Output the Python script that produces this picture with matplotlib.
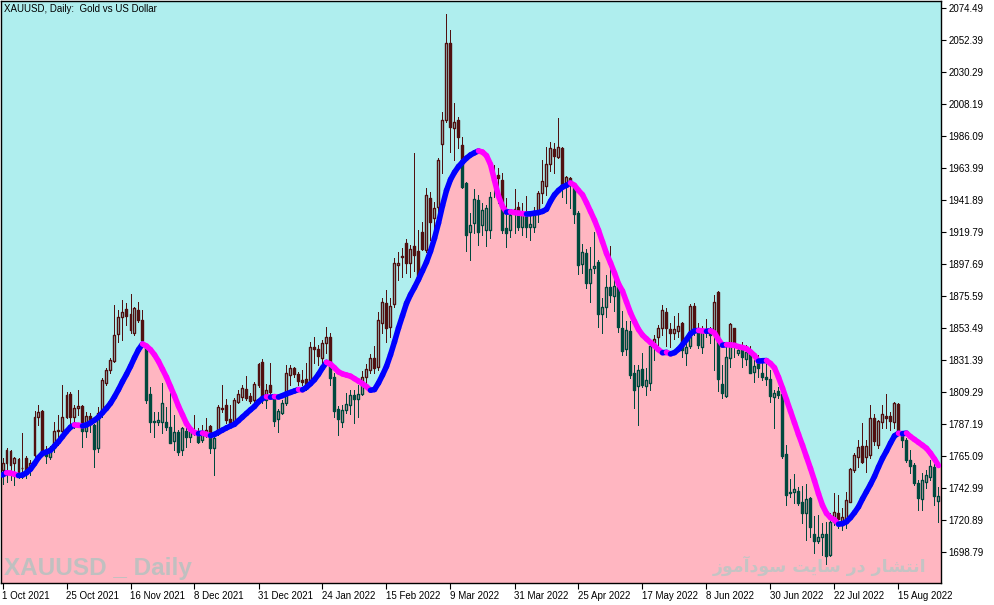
import matplotlib
matplotlib.use("Agg")
import matplotlib.pyplot as plt
from matplotlib.collections import LineCollection, PatchCollection
from matplotlib.patches import Polygon, Rectangle
from matplotlib import font_manager
import numpy as np

# XAUUSD daily candles, 1 Oct 2021 .. 29 Aug 2022
opens = [
    1755.5, 1760.5, 1768.8, 1760.0, 1763.0, 1756.5, 1763.5, 1755.4, 1765.8, 1792.3,
    1796.2, 1768.0, 1764.6, 1770.4, 1782.5, 1782.4, 1792.3, 1807.7, 1792.3, 1798.0,
    1799.6, 1782.6, 1793.0, 1786.5, 1770.4, 1795.7, 1815.3, 1824.5, 1830.7, 1849.1,
    1861.3, 1866.6, 1862.9, 1849.8, 1865.9, 1859.0, 1841.8, 1807.7, 1789.3, 1788.8,
    1788.8, 1788.8, 1785.3, 1775.7, 1781.9, 1769.2, 1782.3, 1778.4, 1781.4, 1779.6,
    1776.1, 1779.6, 1785.8, 1770.4, 1780.7, 1798.5, 1800.3, 1790.6, 1788.8, 1802.6,
    1805.6, 1811.1, 1806.5, 1803.8, 1814.1, 1830.2, 1803.8, 1814.1, 1806.1, 1790.6,
    1794.5, 1801.5, 1821.0, 1825.6, 1821.7, 1817.6, 1818.0, 1817.6, 1840.1, 1838.7,
    1832.5, 1842.9, 1847.0, 1819.4, 1797.3, 1788.8, 1796.8, 1800.3, 1807.0, 1804.7,
    1807.9, 1819.9, 1824.5, 1832.5, 1826.8, 1856.7, 1870.5, 1853.9, 1870.0, 1897.0,
    1903.2, 1911.9, 1898.6, 1910.1, 1906.9, 1920.0, 1907.4, 1943.0, 1929.2, 1937.3,
    1980.6, 1997.1, 2050.5, 1991.4, 1997.1, 1979.9, 1953.9, 1920.0, 1925.8, 1941.9,
    1924.6, 1921.2, 1921.2, 1956.8, 1959.1, 1955.7, 1922.3, 1921.2, 1934.3, 1936.8,
    1923.5, 1930.8, 1923.0, 1923.4, 1932.6, 1946.9, 1951.5, 1966.5, 1976.8, 1971.8,
    1977.5, 1952.2, 1956.8, 1949.9, 1932.6, 1897.6, 1905.5, 1884.8, 1894.7, 1899.3,
    1863.1, 1867.7, 1881.5, 1875.5, 1882.0, 1853.2, 1838.7, 1851.6, 1822.1, 1813.4,
    1824.9, 1813.4, 1815.7, 1841.7, 1847.5, 1853.2, 1864.7, 1852.5, 1850.2, 1851.6,
    1856.7, 1836.4, 1841.0, 1868.6, 1852.1, 1840.6, 1851.6, 1852.1, 1852.1, 1878.5,
    1814.8, 1806.5, 1832.5, 1853.2, 1836.0, 1838.3, 1831.8, 1836.5, 1823.3, 1830.9,
    1822.6, 1819.4, 1818.0, 1806.1, 1810.2, 1807.9, 1766.5, 1740.4, 1740.5, 1741.1,
    1733.6, 1725.5, 1736.3, 1711.2, 1706.6, 1709.4, 1711.2, 1696.7, 1719.7, 1725.5,
    1717.4, 1719.7, 1733.5, 1755.4, 1764.6, 1772.0, 1764.6, 1765.8, 1791.1, 1772.7,
    1788.8, 1792.9, 1792.9, 1788.8, 1801.0, 1780.0, 1776.1, 1762.3, 1758.8, 1746.2,
    1735.4, 1747.3, 1750.8, 1757.7, 1734.2,
]
highs = [
    1764.0, 1770.4, 1769.3, 1764.6, 1764.0, 1780.8, 1765.0, 1762.0, 1796.2, 1800.3,
    1797.0, 1772.0, 1772.0, 1788.4, 1793.4, 1814.1, 1809.5, 1809.5, 1800.3, 1810.5,
    1800.3, 1795.5, 1794.5, 1787.5, 1799.0, 1818.7, 1825.7, 1833.0, 1869.4, 1865.9,
    1872.8, 1870.5, 1876.8, 1868.2, 1871.7, 1865.9, 1842.9, 1813.0, 1795.7, 1795.7,
    1815.3, 1799.1, 1808.8, 1793.4, 1783.0, 1785.3, 1789.9, 1785.3, 1793.4, 1784.2,
    1786.5, 1791.1, 1786.5, 1779.6, 1800.3, 1814.1, 1804.2, 1800.3, 1804.9, 1810.7,
    1814.1, 1820.3, 1808.4, 1816.4, 1829.1, 1831.8, 1815.0, 1829.1, 1807.2, 1797.3,
    1803.8, 1827.9, 1827.9, 1826.8, 1823.3, 1824.5, 1829.1, 1844.0, 1847.5, 1841.7,
    1845.2, 1853.9, 1849.8, 1822.2, 1799.6, 1800.3, 1808.4, 1810.7, 1810.7, 1814.1,
    1824.0, 1828.6, 1835.5, 1841.0, 1864.7, 1873.9, 1879.7, 1873.9, 1901.6, 1906.2,
    1908.5, 1914.7, 1910.8, 1974.1, 1921.1, 1926.9, 1949.9, 1947.6, 1940.7, 1970.7,
    2002.9, 2070.3, 2059.3, 2008.6, 1999.4, 1985.6, 1954.5, 1932.7, 1949.2, 1945.3,
    1939.6, 1938.4, 1947.6, 1966.0, 1963.7, 1960.8, 1943.0, 1935.0, 1949.2, 1940.7,
    1939.6, 1944.6, 1931.5, 1937.2, 1948.3, 1969.5, 1978.7, 1982.1, 1981.0, 1998.2,
    1978.7, 1958.4, 1958.0, 1952.2, 1934.3, 1911.2, 1907.8, 1909.6, 1920.0, 1900.5,
    1873.9, 1890.1, 1910.1, 1888.9, 1883.1, 1865.4, 1858.3, 1858.0, 1827.9, 1827.9,
    1836.0, 1825.6, 1842.9, 1848.6, 1855.5, 1869.3, 1867.0, 1857.1, 1861.7, 1863.6,
    1857.5, 1842.9, 1870.0, 1870.5, 1857.1, 1854.8, 1859.4, 1854.4, 1876.2, 1879.0,
    1827.9, 1841.7, 1857.1, 1853.8, 1841.7, 1844.0, 1841.7, 1841.1, 1831.4, 1834.8,
    1830.2, 1829.1, 1824.5, 1810.7, 1813.0, 1813.0, 1772.7, 1749.0, 1752.7, 1743.9,
    1744.4, 1745.8, 1737.0, 1723.7, 1724.3, 1719.0, 1719.7, 1725.5, 1739.3, 1738.2,
    1728.9, 1740.4, 1756.6, 1766.9, 1776.1, 1787.6, 1776.1, 1800.3, 1793.8, 1789.9,
    1800.3, 1807.7, 1795.7, 1802.6, 1801.4, 1780.7, 1777.3, 1769.2, 1760.0, 1748.5,
    1753.1, 1755.4, 1762.3, 1759.3, 1743.9,
]
lows = [
    1746.0, 1747.4, 1748.5, 1745.1, 1750.0, 1749.7, 1750.0, 1752.0, 1763.5, 1786.5,
    1766.0, 1760.0, 1763.0, 1768.1, 1772.7, 1781.9, 1791.1, 1783.1, 1784.2, 1793.4,
    1771.6, 1778.5, 1782.0, 1757.7, 1768.0, 1792.3, 1814.1, 1822.2, 1830.3, 1844.1,
    1845.2, 1855.6, 1849.8, 1848.7, 1857.9, 1844.1, 1801.5, 1781.9, 1778.4, 1786.5,
    1780.7, 1783.0, 1773.8, 1769.2, 1766.0, 1765.8, 1771.5, 1775.0, 1779.6, 1773.8,
    1775.0, 1778.4, 1766.9, 1752.0, 1779.6, 1795.7, 1787.6, 1786.5, 1787.6, 1801.5,
    1803.8, 1803.8, 1801.5, 1802.6, 1813.0, 1801.5, 1798.0, 1806.1, 1785.8, 1781.9,
    1794.1, 1800.3, 1814.1, 1819.9, 1814.1, 1814.1, 1810.7, 1816.4, 1829.1, 1827.9,
    1829.5, 1836.0, 1814.1, 1791.8, 1779.6, 1785.3, 1794.5, 1794.1, 1788.1, 1791.8,
    1807.2, 1815.7, 1822.2, 1822.2, 1824.5, 1849.8, 1844.0, 1847.5, 1868.2, 1886.6,
    1888.9, 1891.2, 1888.9, 1893.0, 1886.6, 1907.4, 1906.2, 1914.3, 1921.2, 1928.1,
    1960.8, 1996.0, 1975.3, 1969.5, 1977.6, 1950.0, 1906.9, 1900.4, 1918.9, 1910.8,
    1917.7, 1910.1, 1915.4, 1944.2, 1939.6, 1918.9, 1909.7, 1916.1, 1918.9, 1921.2,
    1917.7, 1916.5, 1914.2, 1920.0, 1926.9, 1939.5, 1945.3, 1962.1, 1960.3, 1970.6,
    1943.7, 1939.5, 1936.1, 1926.2, 1890.7, 1891.2, 1880.8, 1871.6, 1891.2, 1854.4,
    1850.2, 1861.3, 1871.6, 1865.4, 1850.9, 1834.8, 1834.8, 1819.0, 1798.0, 1786.5,
    1812.5, 1807.2, 1810.6, 1831.4, 1841.7, 1848.6, 1841.0, 1840.6, 1845.6, 1847.5,
    1833.7, 1827.9, 1839.4, 1848.6, 1839.4, 1836.0, 1847.0, 1842.9, 1824.4, 1810.0,
    1804.9, 1806.0, 1826.3, 1833.7, 1834.8, 1826.3, 1827.9, 1822.2, 1816.4, 1819.9,
    1817.6, 1814.1, 1802.6, 1784.2, 1804.9, 1763.5, 1731.3, 1737.0, 1732.9, 1731.3,
    1719.0, 1707.1, 1709.4, 1698.3, 1704.8, 1696.7, 1690.5, 1696.0, 1717.4, 1715.1,
    1714.0, 1715.1, 1733.1, 1754.2, 1757.7, 1760.0, 1753.8, 1763.5, 1772.7, 1770.4,
    1784.2, 1784.2, 1783.0, 1784.2, 1779.6, 1771.5, 1761.2, 1753.1, 1745.0, 1727.8,
    1727.8, 1742.7, 1748.5, 1731.2, 1719.7,
]
closes = [
    1760.0, 1769.3, 1758.9, 1763.5, 1754.3, 1757.0, 1754.3, 1760.0, 1792.3, 1795.7,
    1768.1, 1765.0, 1770.4, 1782.4, 1783.2, 1792.3, 1807.2, 1792.3, 1798.5, 1799.5,
    1782.6, 1793.0, 1787.7, 1769.7, 1795.0, 1817.6, 1824.5, 1831.4, 1848.7, 1861.3,
    1864.3, 1862.0, 1852.1, 1867.5, 1859.0, 1845.2, 1803.8, 1788.8, 1788.4, 1789.7,
    1801.5, 1784.9, 1774.3, 1781.9, 1768.1, 1784.2, 1778.0, 1782.3, 1782.6, 1775.0,
    1780.7, 1783.0, 1770.4, 1777.3, 1798.7, 1797.5, 1789.9, 1788.1, 1803.8, 1807.9,
    1811.8, 1804.9, 1803.3, 1814.8, 1828.6, 1803.8, 1810.7, 1809.5, 1789.5, 1796.4,
    1801.9, 1822.2, 1825.6, 1821.7, 1817.1, 1816.4, 1813.4, 1840.6, 1839.0, 1834.1,
    1843.3, 1847.5, 1818.7, 1796.4, 1790.4, 1796.8, 1801.0, 1807.2, 1804.7, 1807.9,
    1819.9, 1825.4, 1832.5, 1825.6, 1859.0, 1871.2, 1853.2, 1868.7, 1898.1, 1898.1,
    1902.3, 1898.1, 1907.8, 1903.6, 1887.8, 1907.8, 1945.3, 1926.9, 1936.1, 1969.5,
    1997.1, 2050.1, 1992.1, 1996.0, 1985.2, 1951.1, 1917.7, 1924.6, 1942.3, 1920.0,
    1935.0, 1936.1, 1944.2, 1959.1, 1956.8, 1921.2, 1918.9, 1931.5, 1935.6, 1923.5,
    1932.7, 1923.4, 1925.3, 1931.5, 1946.5, 1955.0, 1966.7, 1977.5, 1972.2, 1978.2,
    1951.1, 1957.5, 1954.5, 1932.2, 1897.0, 1906.2, 1884.8, 1894.0, 1896.3, 1863.1,
    1867.7, 1881.5, 1876.2, 1882.5, 1853.9, 1837.8, 1852.1, 1821.0, 1810.6, 1824.4,
    1814.1, 1817.5, 1841.0, 1845.6, 1853.2, 1865.9, 1853.2, 1850.2, 1852.5, 1854.8,
    1838.3, 1840.6, 1868.6, 1852.1, 1841.7, 1852.1, 1852.5, 1848.6, 1871.6, 1818.0,
    1808.8, 1833.2, 1856.2, 1841.0, 1838.3, 1833.2, 1837.1, 1822.6, 1827.2, 1825.6,
    1819.9, 1818.0, 1806.5, 1808.8, 1807.2, 1765.1, 1738.2, 1739.8, 1742.1, 1732.9,
    1726.0, 1735.2, 1716.3, 1706.6, 1708.9, 1711.2, 1696.0, 1719.7, 1726.6, 1721.4,
    1723.2, 1734.7, 1756.1, 1765.7, 1771.5, 1761.2, 1772.0, 1791.1, 1775.4, 1789.2,
    1793.8, 1791.1, 1789.2, 1801.4, 1780.7, 1776.1, 1762.3, 1758.4, 1746.2, 1735.8,
    1748.5, 1751.9, 1758.4, 1737.7, 1737.7,
]
# moving average line
ma_values = [
    1752.0, 1753.5, 1753.3, 1752.5, 1751.6, 1751.9, 1753.5, 1756.0, 1759.8, 1764.0,
    1766.8, 1767.9, 1769.0, 1772.0, 1775.0, 1778.5, 1782.0, 1785.0, 1786.6, 1786.3,
    1785.9, 1786.6, 1788.0, 1789.8, 1792.0, 1795.0, 1798.0, 1801.5, 1806.0, 1811.0,
    1816.5, 1821.5, 1827.0, 1833.0, 1838.5, 1842.5, 1841.0, 1838.5, 1835.0, 1830.5,
    1825.0, 1819.5, 1813.0, 1806.5, 1799.5, 1793.5, 1787.5, 1783.5, 1781.3, 1780.6,
    1780.9, 1780.0, 1779.2, 1780.0, 1781.5, 1783.0, 1784.5, 1785.8, 1787.0, 1789.5,
    1792.0, 1794.5, 1797.0, 1799.3, 1802.5, 1804.8, 1806.0, 1805.7, 1806.1, 1805.8,
    1806.8, 1808.0, 1809.0, 1810.0, 1811.0, 1810.8, 1812.5, 1815.0, 1817.8, 1821.5,
    1826.0, 1829.8, 1828.5, 1826.0, 1823.2, 1821.8, 1821.0, 1820.2, 1818.5, 1816.8,
    1815.0, 1813.0, 1810.5, 1811.0, 1815.5, 1821.0, 1827.0, 1835.0, 1844.0, 1853.5,
    1862.0, 1870.5, 1876.5, 1881.5, 1887.0, 1893.0, 1899.0, 1906.5, 1915.5, 1926.0,
    1938.0, 1948.5, 1956.0, 1961.0, 1965.0, 1968.0, 1970.8, 1973.0, 1974.5, 1975.8,
    1975.0, 1972.5, 1966.5, 1955.5, 1944.5, 1937.5, 1933.5, 1933.8, 1933.2, 1932.8,
    1932.5, 1932.2, 1932.4, 1932.8, 1933.2, 1934.0, 1935.5, 1941.0, 1945.5, 1948.5,
    1950.8, 1952.0, 1953.7, 1952.0, 1948.5, 1945.5, 1940.0, 1934.0, 1928.0, 1921.0,
    1913.0, 1905.0, 1898.5, 1891.5, 1884.0, 1879.0, 1871.5, 1864.0, 1858.0, 1852.5,
    1848.6, 1846.0, 1843.5, 1841.2, 1838.5, 1836.4, 1836.7, 1835.6, 1836.5, 1838.8,
    1842.0, 1845.5, 1849.5, 1851.5, 1851.8, 1851.5, 1851.2, 1851.6, 1850.0, 1845.5,
    1841.6, 1842.0, 1841.8, 1841.5, 1840.6, 1840.0, 1839.2, 1837.0, 1834.5, 1830.6,
    1830.9, 1831.0, 1829.0, 1826.0, 1819.5, 1812.0, 1804.0, 1796.0, 1788.0, 1780.0,
    1772.5, 1764.5, 1756.5, 1748.0, 1739.0, 1731.0, 1725.5, 1722.5, 1721.0, 1718.0,
    1718.4, 1719.7, 1722.5, 1726.0, 1730.0, 1735.5, 1740.5, 1745.5, 1751.0, 1757.5,
    1763.5, 1768.5, 1774.0, 1779.0, 1780.8, 1780.5, 1780.9, 1778.5, 1776.5, 1774.5,
    1772.5, 1770.4, 1767.0, 1763.0, 1758.5,
]
date_labels = ["1 Oct 2021", "25 Oct 2021", "16 Nov 2021", "8 Dec 2021",
               "31 Dec 2021", "24 Jan 2022", "15 Feb 2022", "9 Mar 2022",
               "31 Mar 2022", "25 Apr 2022", "17 May 2022", "8 Jun 2022",
               "30 Jun 2022", "22 Jul 2022", "15 Aug 2022"]
date_positions = [0, 16, 32, 48, 64, 80, 96, 112, 128, 144, 160, 176, 192, 208, 224]
price_ticks = [2074.49, 2052.39, 2030.29, 2008.19, 1986.09, 1963.99, 1941.89,
               1919.79, 1897.69, 1875.59, 1853.49, 1831.39, 1809.29, 1787.19,
               1765.09, 1742.99, 1720.89, 1698.79]

n = len(closes)
assert len(opens) == len(highs) == len(lows) == n == len(ma_values)

ABOVE_BG = "#AFEEEE"
BELOW_BG = "#FFB6C1"
ABOVE_CANDLE = "#501111"
BELOW_CANDLE = "#00493E"
UP_COL = "#0000FF"
DOWN_COL = "#FF00FF"

W, H = 994, 605
fig = plt.figure(figsize=(W / 100, H / 100), dpi=100)
fig.patch.set_facecolor("white")
ax = fig.add_axes([1 / W, 22 / H, 940 / W, 582 / H])

# 4 px per bar, bar centres on pixel centres
xlo, xhi = -0.375, 234.625
ylo, yhi = 1677.38, 2079.32
ax.set_xlim(xlo, xhi)
ax.set_ylim(ylo, yhi)

x = np.arange(n)
ma = np.array(ma_values)
edge_x = np.r_[xlo - 1, x, xhi + 1]
edge_y = np.r_[ma[0], ma, ma[-1]]

upper = Polygon(np.column_stack([np.r_[edge_x, xhi + 1, xlo - 1],
                                 np.r_[edge_y, yhi + 50, yhi + 50]]),
                closed=True, facecolor=ABOVE_BG, edgecolor="none", zorder=0)
lower = Polygon(np.column_stack([np.r_[edge_x, xhi + 1, xlo - 1],
                                 np.r_[edge_y, ylo - 50, ylo - 50]]),
                closed=True, facecolor=BELOW_BG, edgecolor="none", zorder=0)
ax.add_patch(upper)
ax.add_patch(lower)

# watermarks sit on the background, under the candles
names = {f.name for f in font_manager.fontManager.ttflist}
wm_family = "Liberation Sans Narrow" if "Liberation Sans Narrow" in names else "Liberation Sans"
wm_size = 21 if wm_family == "Liberation Sans Narrow" else 17.5
ax.text(3 / 940, (583 - 575) / 582, "XAUUSD _ Daily", transform=ax.transAxes,
        family=wm_family, weight="bold", fontsize=wm_size, color="#C0C0C0",
        va="baseline", ha="left", zorder=1)

# "انتشار در سایت سودآموز" in presentation forms, visual order
persian = ("\uFEAF\uFEEE\uFEE3\uFE81\uFEA9\uFEEE\uFEB3 "
           "\uFE96\uFEF3\uFE8E\uFEB3 "
           "\uFEAD\uFEA9 "
           "\uFEAD\uFE8E\uFEB8\uFE98\uFEE7\uFE8D")
ax.text(925 / 940, (583 - 572) / 582, persian, transform=ax.transAxes,
        family="DejaVu Sans", weight="bold", fontsize=12.5, color="#C4C4C4",
        va="baseline", ha="right", zorder=1)


def draw_candles(color, clip):
    segs = []
    rects = []
    for i in range(n):
        o, h, l, c = opens[i], highs[i], lows[i], closes[i]
        if c >= o:
            segs.append([(i, h), (i, c)])
            segs.append([(i, o), (i, l)])
            rects.append(Rectangle((i - 0.25, o), 0.5, c - o,
                                   facecolor="none", edgecolor=color))
        else:
            segs.append([(i, h), (i, l)])
            rects.append(Rectangle((i - 0.25, c), 0.5, o - c,
                                   facecolor=color, edgecolor=color))
    wicks = LineCollection(segs, colors=color, linewidths=0.72,
                           antialiaseds=False, zorder=3)
    bodies = PatchCollection(rects, match_original=True, linewidths=0.72,
                             antialiaseds=False, zorder=3)
    ax.add_collection(wicks)
    ax.add_collection(bodies)
    wicks.set_clip_path(clip)
    bodies.set_clip_path(clip)


draw_candles(ABOVE_CANDLE, upper)
draw_candles(BELOW_CANDLE, lower)

# coloured moving average: blue while rising, magenta while falling
segs = [[(i - 1, ma[i - 1]), (i, ma[i])] for i in range(1, n)]
cols = [UP_COL if ma[i] >= ma[i - 1] else DOWN_COL for i in range(1, n)]
ma_line = LineCollection(segs, colors=cols, linewidths=4.0,
                         capstyle="round", joinstyle="round", zorder=5)
ax.add_collection(ma_line)

# axes / frame
for s in ax.spines.values():
    s.set_color("black")
    s.set_linewidth(1.0)

ax.yaxis.tick_right()
ax.set_yticks(price_ticks)
ax.set_yticklabels([f"{p:.2f}" for p in price_ticks])
ax.tick_params(axis="y", direction="out", length=3.5, width=0.8, pad=2,
               labelsize=7, colors="black")
for t in ax.get_yticklabels():
    t.set_family("Liberation Sans")

ax.set_xticks(date_positions)
ax.set_xticklabels(date_labels)
ax.tick_params(axis="x", direction="out", length=4.5, width=0.8, pad=1.5,
               labelsize=7, colors="black")
for t in ax.get_xticklabels():
    t.set_family("Liberation Sans")
    t.set_horizontalalignment("left")

fig.text(4 / W, 1 - 9 / H, "XAUUSD, Daily:  Gold vs US Dollar",
         family="Liberation Sans", fontsize=7, color="black",
         va="center", ha="left")

fig.savefig("out.png", dpi=100)
